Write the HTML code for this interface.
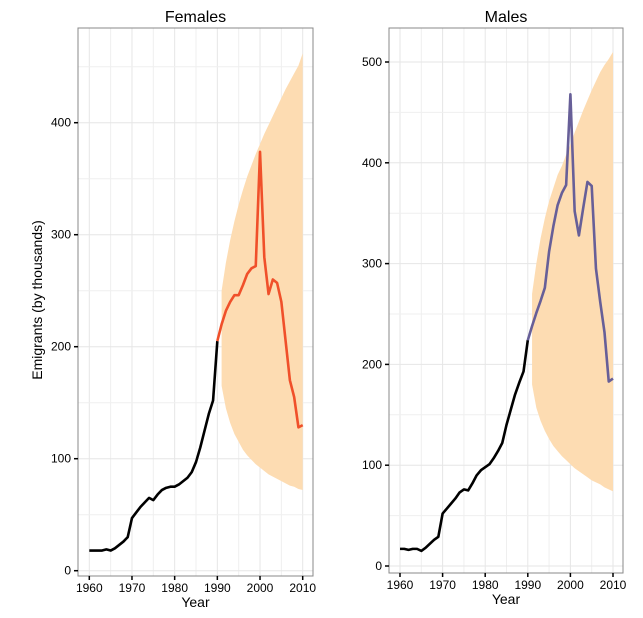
<!DOCTYPE html>
<html><head><meta charset="utf-8">
<style>
body{margin:0;background:#fff;}
svg{display:block;font-family:"Liberation Sans",sans-serif;}
</style></head>
<body>
<svg id="chart" width="643" height="618" viewBox="0 0 643 618" xmlns="http://www.w3.org/2000/svg">
<rect width="643" height="618" fill="#fff"/>
<text x="42" y="300" font-size="14" text-anchor="middle" transform="rotate(-90 42 300)">Emigrants (by thousands)</text>
</svg>
<script>
const years = [];
for (let y = 1960; y <= 2010; y++) years.push(y);
const femaleValues = [18,18,18,18,19,18,20,23,26,30,47,52,57,61,65,63,68,72,74,75,75,77,80,83,88,97,110,125,140,152,205,220,232,240,246,246,255,265,270,272,374,280,247,260,257,240,205,170,155,128,130];
const maleValues = [17,17,16,17,17,15,18,22,26,29,52,57,62,67,73,76,75,82,90,95,98,101,107,114,122,140,155,170,182,193,224,238,251,263,276,312,337,358,370,378,468,352,328,355,381,377,295,262,232,183,186];
const bandYears = [1991,1992,1993,1994,1995,1996,1997,1998,1999,2000,2001,2002,2003,2004,2005,2006,2007,2008,2009,2010];
const femaleUpper = [250,275,295,312,327,340,352,362,372,381,390,398,406,414,422,430,437,444,451,462];
const femaleLower = [165,145,132,122,115,108,103,99,95,92,89,86,84,82,80,78,76,75,73,72];
const maleUpper = [270,300,325,345,362,375,388,397,408,418,430,441,452,462,472,481,490,497,503,510];
const maleLower = [180,157,144,134,126,119,114,109,105,101,97,94,91,88,85,83,81,78,76,74];
const xTicks = [1960,1970,1980,1990,2000,2010];
const femaleYTicks = [0,100,200,300,400];
const maleYTicks = [0,100,200,300,400,500];

const NS = "http://www.w3.org/2000/svg";
const svg = document.getElementById('chart');
function mk(tag, attrs, parent){
  const e = document.createElementNS(NS, tag);
  for (const k in attrs) e.setAttribute(k, attrs[k]);
  (parent||svg).appendChild(e);
  return e;
}

function panel(cfg){
  const g = mk('g', {});
  
  
  const xs = v => cfg.x0 + (v - 1960) * (cfg.x1 - cfg.x0) / 50;
  const ys = v => cfg.y0 - v * cfg.k;
  for (let y = 1960; y <= 2010; y += 5) {
    const l = mk('line', {x1:xs(y), x2:xs(y), y1:cfg.top, y2:cfg.bottom, stroke: y%10===0 ? '#e6e6e6' : '#efefef', 'stroke-width':1}, g);
    
    
  }
  const maxT = cfg.yTicks[cfg.yTicks.length-1] + 100;
  for (let v = 0; v <= maxT; v += 50) {
    if (ys(v) < cfg.top) break;
    const l = mk('line', {x1:cfg.left, x2:cfg.right, y1:ys(v), y2:ys(v), stroke: v%100===0 ? '#e6e6e6' : '#efefef', 'stroke-width':1}, g);
    
    
  }
  let d = '';
  cfg.upper.forEach((v,i)=>{ d += (i?'L':'M') + xs(bandYears[i]) + ',' + ys(v); });
  for (let i = cfg.lower.length-1; i >= 0; i--) d += 'L' + xs(bandYears[i]) + ',' + ys(cfg.lower[i]);
  d += 'Z';
  const band = mk('path', {d:d, fill:'#fddcb2'}, g);
  
  
  let d1 = '', d2 = '';
  years.forEach((y,i)=>{
    const p = xs(y) + ',' + ys(cfg.values[i]);
    if (y <= 1990) d1 += (d1?'L':'M') + p;
    if (y >= 1990) d2 += (d2?'L':'M') + p;
  });
  const hist = mk('path', {d:d1, fill:'none', stroke:'#000', 'stroke-width':2.6, 'stroke-linejoin':'round'}, g);
  
  
  const proj = mk('path', {d:d2, fill:'none', stroke:cfg.color, 'stroke-width':2.6, 'stroke-linejoin':'round'}, g);
  
  
  const fr = mk('rect', {x:cfg.left, y:cfg.top, width:cfg.right-cfg.left, height:cfg.bottom-cfg.top, fill:'none', stroke:'#888', 'stroke-width':1}, g);
  
  
  cfg.yTicks.forEach(v=>{
    mk('line', {x1:cfg.left-4, x2:cfg.left, y1:ys(v), y2:ys(v), stroke:'#000', 'stroke-width':1.5}, g);
    const t = mk('text', {x:cfg.left-7, y:ys(v)+4, 'font-size':12, 'text-anchor':'end'}, g);
    t.textContent = v;
    
    
  });
  xTicks.forEach(v=>{
    mk('line', {x1:xs(v), x2:xs(v), y1:cfg.bottom, y2:cfg.bottom+4, stroke:'#000', 'stroke-width':1.5}, g);
    const t = mk('text', {x:xs(v), y:cfg.bottom+16, 'font-size':12, 'text-anchor':'middle'}, g);
    t.textContent = v;
    
    
  });
  const xt = mk('text', {x:(cfg.left+cfg.right)/2, y:cfg.bottom+31, 'font-size':14, 'text-anchor':'middle'}, g);
  xt.textContent = 'Year';
  
  
  const tt = mk('text', {x:(cfg.left+cfg.right)/2, y:22, 'font-size':16, 'text-anchor':'middle'}, g);
  tt.textContent = cfg.title;
  
  
}

panel({name:'females', title:'Females', left:78, right:313, top:28, bottom:576, x0:89.3, x1:302.7, y0:570.7, k:1.12, values:femaleValues, upper:femaleUpper, lower:femaleLower, yTicks:femaleYTicks, color:'#f0502a'});
panel({name:'males', title:'Males', left:389, right:623, top:28, bottom:573, x0:400, x1:613, y0:566, k:1.008, values:maleValues, upper:maleUpper, lower:maleLower, yTicks:maleYTicks, color:'#675f98'});
</script>
</body></html>
